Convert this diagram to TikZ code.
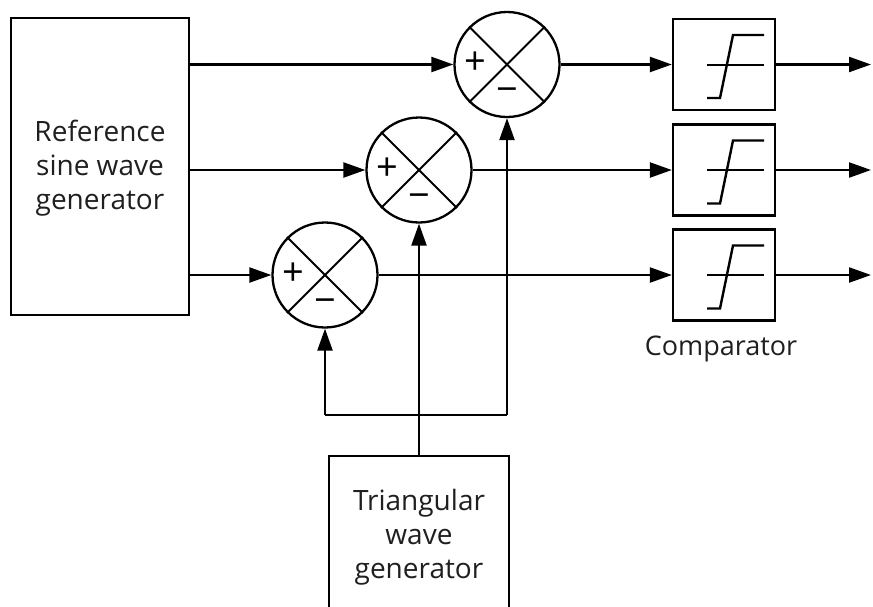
\documentclass[tikz,border=0pt]{standalone}
\usepackage{fontspec}
\setmainfont{Open Sans}
\usetikzlibrary{arrows.meta,calc}
\begin{document}
\begin{tikzpicture}[x=1pt,y=-1pt,
  line width=2.3pt, line join=miter,
  arr/.style={-{Triangle[length=22pt,width=15pt]}},
  sumnode/.style={circle, draw, minimum size=105pt, inner sep=0pt},
  compbox/.style={draw, minimum width=102pt, minimum height=91pt, inner sep=0pt},
  lbl/.style={font=\fontsize{28}{34}\selectfont, align=center, text=black!88},
  sign/.style={font=\fontsize{38}{38}\selectfont, inner sep=0pt}]
\useasboundingbox (0,0) rectangle (873,606);
\clip (0,0) rectangle (873,606);

% reference generator
\node[draw, minimum width=178pt, minimum height=297pt, inner sep=0pt] (refbox) at (100,166.5) {};
\node[lbl] (reftxt) at (100,168) {Reference\\sine wave\\generator};

% summers
\node[sumnode] (s1) at (507,64.5) {};
\node[sumnode] (s2) at (419,170) {};
\node[sumnode] (s3) at (325,275) {};
\foreach \s in {s1,s2,s3}{
  \draw[line width=2pt] (\s.north west) -- (\s.south east);
  \draw[line width=2pt] (\s.north east) -- (\s.south west);
  \node[sign] at ($(\s.center)+(-32,-1)$) {+};
  \node[sign] at ($(\s.center)+(0,31)$) {−};
}

% comparators
\node[compbox] (c1) at (724,64.5) {};
\node[compbox] (c2) at (724,170) {};
\node[compbox] (c3) at (724,275) {};
\foreach \c in {c1,c2,c3}{
  \draw[line width=2pt] ($(\c.center)+(-17,0)$) -- ++(57,0);
  \draw[line width=2.4pt] ($(\c.center)+(-17,33.5)$) -- ++(13,0) -- ++(13,-63) -- ++(31,0);
}
\node[font=\fontsize{27}{32}\selectfont, text=black!88, anchor=base] (comptxt) at (721,355) {Comparator};

% outputs
\coordinate (o1) at (871,64.5);
\coordinate (o2) at (871,170);
\coordinate (o3) at (871,275);

% triangular generator
\node[lbl, minimum width=178pt, minimum height=160pt, inner sep=0pt] (tri) at (419,537) {Triangular\\wave\\generator};
\draw ($(tri.south west)+(0,5)$) -- (tri.north west) -- (tri.north east) -- ($(tri.south east)+(0,5)$);

% connectors: reference -> summers
\draw[arr] (refbox.east |- s1.west) -- (s1.west);
\draw[arr] (refbox.east |- s2.west) -- (s2.west);
\draw[arr] (refbox.east |- s3.west) -- (s3.west);

% summers -> comparators
\draw[arr] (s1.east) -- (c1.west);
\draw[arr] (s2.east) -- (c2.west);
\draw[arr] (s3.east) -- (c3.west);

% comparators -> outputs
\draw[arr] (c1.east) -- (o1);
\draw[arr] (c2.east) -- (o2);
\draw[arr] (c3.east) -- (o3);

% triangular distribution
\coordinate (jl) at (325,415);
\coordinate (jr) at (507,415);
\draw[arr] (tri.north) -- (s2.south);
\draw (jl) -- (jr);
\draw[arr] (jl) -- (s3.south);
\draw[arr] (jr) -- (s1.south);
\end{tikzpicture}
\end{document}
